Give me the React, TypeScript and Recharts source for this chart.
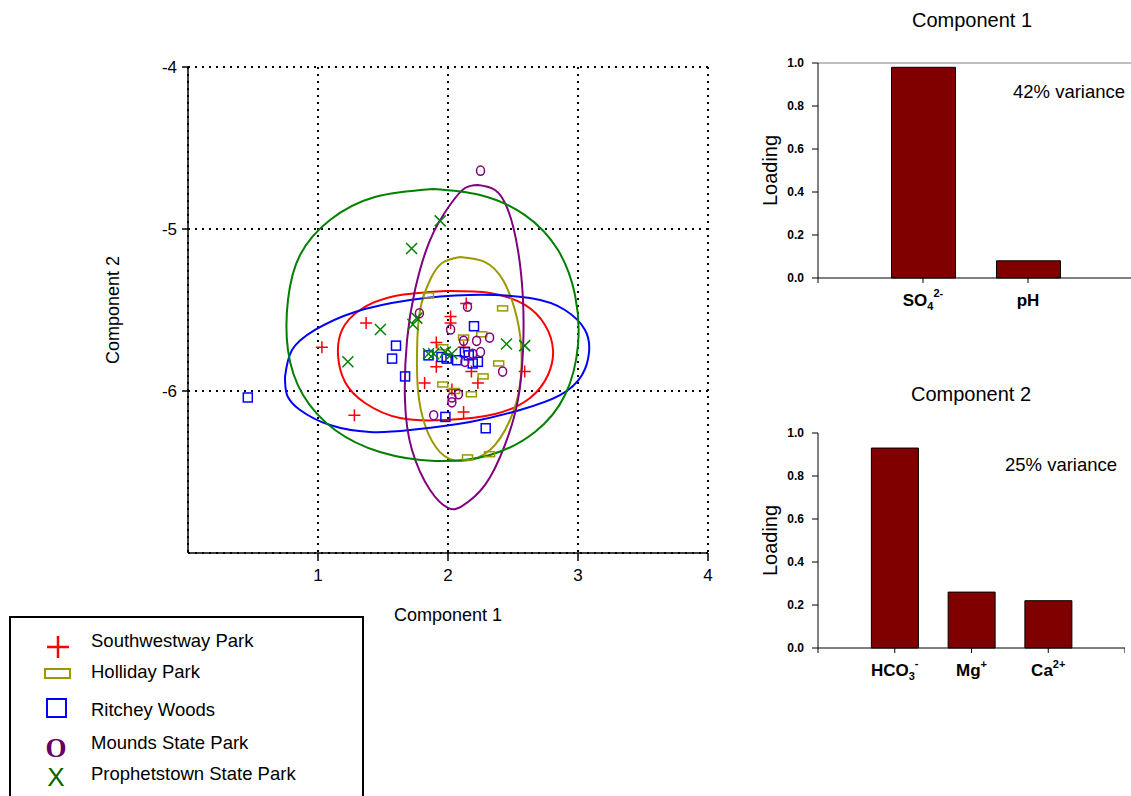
import {
  ScatterChart,
  Scatter,
  XAxis,
  YAxis,
  CartesianGrid,
  BarChart,
  Bar,
  ReferenceLine,
} from 'recharts'

const FONT = '"Liberation Sans", Arial, Helvetica, sans-serif'

// site scores [component 1, component 2]
const southwestway = [
  [1.03, -5.73], [1.37, -5.58], [1.28, -6.15], [2.02, -5.54], [2.02, -5.58],
  [2.14, -5.46], [1.91, -5.70], [1.91, -5.85], [1.82, -5.95], [2.12, -5.73],
  [2.18, -5.88], [2.23, -5.95], [2.03, -5.99], [2.12, -6.13], [2.59, -5.88],
]
const holliday = [
  [1.85, -5.41], [2.42, -5.49], [2.26, -5.65], [2.12, -5.67], [1.96, -5.73],
  [2.39, -5.83], [2.27, -5.91], [1.96, -5.96], [2.05, -6.0], [2.18, -6.02],
  [2.15, -6.41], [2.32, -6.39],
]
const ritchey = [
  [0.46, -6.04], [1.6, -5.72], [1.57, -5.8], [1.67, -5.91], [2.2, -5.6],
  [1.98, -6.16], [2.29, -6.23], [1.85, -5.78], [1.95, -5.79], [1.99, -5.8],
  [2.07, -5.81], [2.13, -5.76], [2.19, -5.83], [2.23, -5.82], [2.16, -5.78],
]
const mounds = [
  [2.25, -4.64], [2.15, -5.48], [2.02, -5.62], [1.78, -5.52], [2.12, -5.69],
  [2.22, -5.69], [2.32, -5.67], [2.25, -5.76], [2.19, -5.77], [2.13, -5.82],
  [2.42, -5.88], [2.08, -6.02], [2.03, -6.04], [2.03, -6.07], [1.89, -6.15],
]
const prophetstown = [
  [1.94, -4.95], [1.72, -5.12], [1.48, -5.62], [1.23, -5.82], [1.76, -5.55],
  [1.73, -5.59], [2.45, -5.71], [2.59, -5.72], [1.85, -5.77], [1.89, -5.77],
  [1.98, -5.76], [2.03, -5.77],
]

// ellipse outlines, read round the curve once
const southwestwayRing = [
  [1.985, -5.383], [2.323, -5.395], [2.592, -5.469], [2.746, -5.593], [2.808, -5.747],
  [2.769, -5.901], [2.631, -6.043], [2.362, -6.142], [1.985, -6.179], [1.631, -6.167],
  [1.362, -6.074], [1.208, -5.944], [1.154, -5.778], [1.185, -5.623], [1.323, -5.5],
  [1.592, -5.414],
]
const hollidayRing = [
  [2.092, -5.173], [2.285, -5.204], [2.423, -5.315], [2.515, -5.5], [2.562, -5.716],
  [2.554, -5.963], [2.477, -6.179], [2.323, -6.364], [2.108, -6.432], [1.938, -6.377],
  [1.823, -6.21], [1.769, -5.994], [1.762, -5.747], [1.785, -5.5], [1.862, -5.315],
  [1.954, -5.21],
]
const ritcheyRing = [
  [0.746, -5.914], [0.8, -5.747], [0.977, -5.623], [1.285, -5.512], [1.708, -5.438],
  [2.169, -5.407], [2.631, -5.426], [2.9, -5.5], [3.054, -5.623], [3.085, -5.759],
  [3.031, -5.901], [2.862, -6.025], [2.554, -6.117], [2.169, -6.191], [1.708, -6.241],
  [1.4, -6.253], [1.092, -6.21], [0.862, -6.117], [0.762, -6.025],
]
const moundsRing = [
  [2.231, -4.728], [2.362, -4.759], [2.462, -4.883], [2.538, -5.13], [2.577, -5.438],
  [2.577, -5.747], [2.538, -6.056], [2.438, -6.333], [2.285, -6.58], [2.108, -6.71],
  [2.0, -6.722], [1.862, -6.611], [1.723, -6.364], [1.669, -6.056], [1.685, -5.685],
  [1.746, -5.377], [1.862, -5.068], [2.015, -4.852], [2.131, -4.747],
]
const prophetstownRing = [
  [1.885, -4.753], [2.246, -4.79], [2.592, -4.914], [2.846, -5.13], [2.977, -5.407],
  [3.0, -5.716], [2.9, -6.025], [2.669, -6.253], [2.323, -6.395], [1.9, -6.432],
  [1.477, -6.377], [1.131, -6.241], [0.885, -6.025], [0.769, -5.747], [0.769, -5.438],
  [0.862, -5.16], [1.092, -4.944], [1.438, -4.802],
]

const siteNames = [
  'Southwestway Park',
  'Holliday Park',
  'Ritchey Woods',
  'Mounds State Park',
  'Prophetstown State Park',
]

const comp1Ions = ['SO4', 'pH']
const comp1Loadings = [0.98, 0.08]
const comp2Ions = ['HCO3', 'Mg', 'Ca']
const comp2Loadings = [0.93, 0.26, 0.22]
const loadingTicks = [0, 0.2, 0.4, 0.6, 0.8, 1.0]

// how the ion names are typeset
const ionParts: Record<string, { base: string; sub?: string; sup?: string }> = {
  SO4: { base: 'SO', sub: '4', sup: '2-' },
  pH: { base: 'pH' },
  HCO3: { base: 'HCO', sub: '3', sup: '-' },
  Mg: { base: 'Mg', sup: '+' },
  Ca: { base: 'Ca', sup: '2+' },
}

const RED = '#ff0000'
const OLIVE = '#999900'
const BLUE = '#0000ff'
const PURPLE = '#800080'
const GREEN = '#008000'
const BAR = '#800000'

const toPts = (arr: number[][]) => arr.map(([x, y]) => ({ x, y }))
const ring = (arr: number[][]) => toPts([...arr, arr[0]])

const PlusShape = (p: any) => (
  <path
    d={`M${p.cx - 6},${p.cy}H${p.cx + 6}M${p.cx},${p.cy - 6}V${p.cy + 6}`}
    stroke={RED}
    strokeWidth={1.5}
  />
)
const BarShape = (p: any) => (
  <rect x={p.cx - 5} y={p.cy - 2.5} width={10} height={5} fill="none" stroke={OLIVE} strokeWidth={1.5} />
)
const SquareShape = (p: any) => (
  <rect x={p.cx - 4.5} y={p.cy - 4.5} width={9} height={9} fill="none" stroke={BLUE} strokeWidth={1.5} />
)
const CircleShape = (p: any) => (
  <ellipse cx={p.cx} cy={p.cy} rx={4} ry={4.6} fill="none" stroke={PURPLE} strokeWidth={1.5} />
)
const CrossShape = (p: any) => (
  <path
    d={`M${p.cx - 5.5},${p.cy - 5.5}L${p.cx + 5.5},${p.cy + 5.5}M${p.cx + 5.5},${p.cy - 5.5}L${p.cx - 5.5},${p.cy + 5.5}`}
    stroke={GREEN}
    strokeWidth={1.5}
  />
)
const NoDot = () => <g />

const series = [
  { pts: southwestway, outline: southwestwayRing, color: RED, shape: PlusShape },
  { pts: holliday, outline: hollidayRing, color: OLIVE, shape: BarShape },
  { pts: ritchey, outline: ritcheyRing, color: BLUE, shape: SquareShape },
  { pts: mounds, outline: moundsRing, color: PURPLE, shape: CircleShape },
  { pts: prophetstown, outline: prophetstownRing, color: GREEN, shape: CrossShape },
]

const IonTick = ({ x, y, payload, names }: any) => {
  const name = names[payload.value - 1]
  if (!name) return <g />
  const part = ionParts[name]
  return (
    <text x={x} y={y + 15} textAnchor="middle" fontFamily={FONT} fontWeight="bold" fontSize={17} fill="#000">
      <tspan>{part.base}</tspan>
      {part.sub && <tspan dy={4} fontSize={11}>{part.sub}</tspan>}
      {part.sup && <tspan dy={part.sub ? -13 : -8} fontSize={11}>{part.sup}</tspan>}
    </text>
  )
}

const axisTick = { fill: '#000', fontSize: 17, fontFamily: FONT }
const loadTick = { fill: '#000', fontSize: 12, fontFamily: FONT, fontWeight: 'bold' as const }

function LoadingChart({ ions, loadings, top, barSize, domainMax, width, showTop }: any) {
  const data = ions.map((ion: string, i: number) => ({ pos: i + 1, ion, loading: loadings[i] }))
  const ticks = Array.from({ length: domainMax + 1 }, (_, i) => i)
  return (
    <div style={{ position: 'absolute', left: 750, top }}>
      <BarChart width={width} height={280} data={data} margin={{ top: 23, right: 0, bottom: 7, left: 0 }}>
        <XAxis
          type="number"
          dataKey="pos"
          domain={[0, domainMax]}
          ticks={ticks}
          height={35}
          tickSize={5}
          tickMargin={8}
          axisLine={{ stroke: '#000' }}
          tickLine={{ stroke: '#000' }}
          tick={<IonTick names={ions} />}
        />
        <YAxis
          domain={[0, 1]}
          ticks={loadingTicks}
          width={68}
          tickSize={6}
          tickMargin={8}
          tickFormatter={(v: number) => v.toFixed(1)}
          axisLine={{ stroke: '#000' }}
          tickLine={{ stroke: '#000' }}
          tick={loadTick}
          label={{
            value: 'Loading',
            angle: -90,
            position: 'insideLeft',
            offset: 20,
            style: { textAnchor: 'middle', fontSize: 20, fontFamily: FONT, fill: '#000' },
          }}
        />
        {showTop && <ReferenceLine y={1} stroke="#808080" />}
        <Bar dataKey="loading" fill={BAR} stroke="#000" strokeWidth={1} barSize={barSize} isAnimationActive={false} />
      </BarChart>
    </div>
  )
}

export default function App() {
  return (
    <div
      style={{
        position: 'absolute',
        left: 0,
        top: 0,
        width: 1131,
        height: 796,
        overflow: 'hidden',
        background: '#fff',
        fontFamily: FONT,
      }}
    >
      <div style={{ position: 'absolute', left: 0, top: 0 }}>
        <ScatterChart width={760} height={640} margin={{ top: 67, right: 52, bottom: 57, left: 100 }}>
          <CartesianGrid stroke="#000" strokeWidth={2} strokeDasharray="2 5" />
          <XAxis
            type="number"
            dataKey="x"
            domain={[0, 4]}
            ticks={[1, 2, 3, 4]}
            height={30}
            tickSize={8}
            tickMargin={8}
            axisLine={{ stroke: '#000', strokeWidth: 1.5 }}
            tickLine={{ stroke: '#000', strokeWidth: 1.5 }}
            tick={axisTick}
            label={{ value: 'Component 1', position: 'bottom', offset: 25, style: { fontSize: 18, fontFamily: FONT, fill: '#000' } }}
          />
          <YAxis
            type="number"
            dataKey="y"
            domain={[-7, -4]}
            ticks={[-6, -5, -4]}
            width={88}
            tickSize={6}
            tickMargin={5}
            axisLine={{ stroke: '#000', strokeWidth: 1.5 }}
            tickLine={{ stroke: '#000', strokeWidth: 1.5 }}
            tick={axisTick}
            label={{
              value: 'Component 2',
              angle: -90,
              position: 'insideLeft',
              offset: 13,
              style: { textAnchor: 'middle', fontSize: 18, fontFamily: FONT, fill: '#000' },
            }}
          />
          {series.map((s, i) => (
            <Scatter
              key={'ring' + i}
              data={ring(s.outline)}
              fill={s.color}
              line={{ stroke: s.color, strokeWidth: 2 }}
              lineType="joint"
              lineJointType="natural"
              shape={NoDot}
              legendType="none"
              isAnimationActive={false}
            />
          ))}
          {series.map((s, i) => (
            <Scatter
              key={'pts' + i}
              name={siteNames[i]}
              data={toPts(s.pts)}
              fill={s.color}
              shape={s.shape}
              isAnimationActive={false}
            />
          ))}
        </ScatterChart>
      </div>

      <LoadingChart ions={comp1Ions} loadings={comp1Loadings} top={40} barSize={64} domainMax={3} width={383} showTop />
      <LoadingChart ions={comp2Ions} loadings={comp2Loadings} top={410} barSize={47} domainMax={4} width={375} showTop={false} />

      <svg width={1131} height={796} style={{ position: 'absolute', left: 0, top: 0, pointerEvents: 'none' }}>
        <g fontFamily={FONT} fill="#000">
          <text x={972} y={20} fontSize={20} textAnchor="middle" dominantBaseline="central">Component 1</text>
          <text x={971} y={394} fontSize={20} textAnchor="middle" dominantBaseline="central">Component 2</text>
          <text x={1013} y={91} fontSize={18.5} dominantBaseline="central">42% variance</text>
          <text x={1005} y={464} fontSize={18.5} dominantBaseline="central">25% variance</text>
        </g>
        <rect x={10} y={617} width={353} height={200} fill="#fff" stroke="#000" strokeWidth={2} />
        <path d="M47,647H69M58,636V658" stroke={RED} strokeWidth={2.5} />
        <rect x={45} y={669} width={25} height={9} fill="none" stroke={OLIVE} strokeWidth={2} />
        <rect x={47} y={699} width={19} height={18} fill="none" stroke={BLUE} strokeWidth={2} />
        <text x={56} y={757} fontSize={27} fontFamily='"Liberation Serif", "Times New Roman", serif' fontWeight="bold" fill="#660066" textAnchor="middle">O</text>
        <text x={56} y={786} fontSize={26} fontFamily={FONT} fill="#006600" textAnchor="middle">X</text>
        <g fontFamily={FONT} fontSize={18.5} fill="#000">
          {siteNames.map((n, i) => (
            <text key={n} x={91} y={[640, 671, 709, 742, 773][i]} dominantBaseline="central">
              {n}
            </text>
          ))}
        </g>
      </svg>
    </div>
  )
}
